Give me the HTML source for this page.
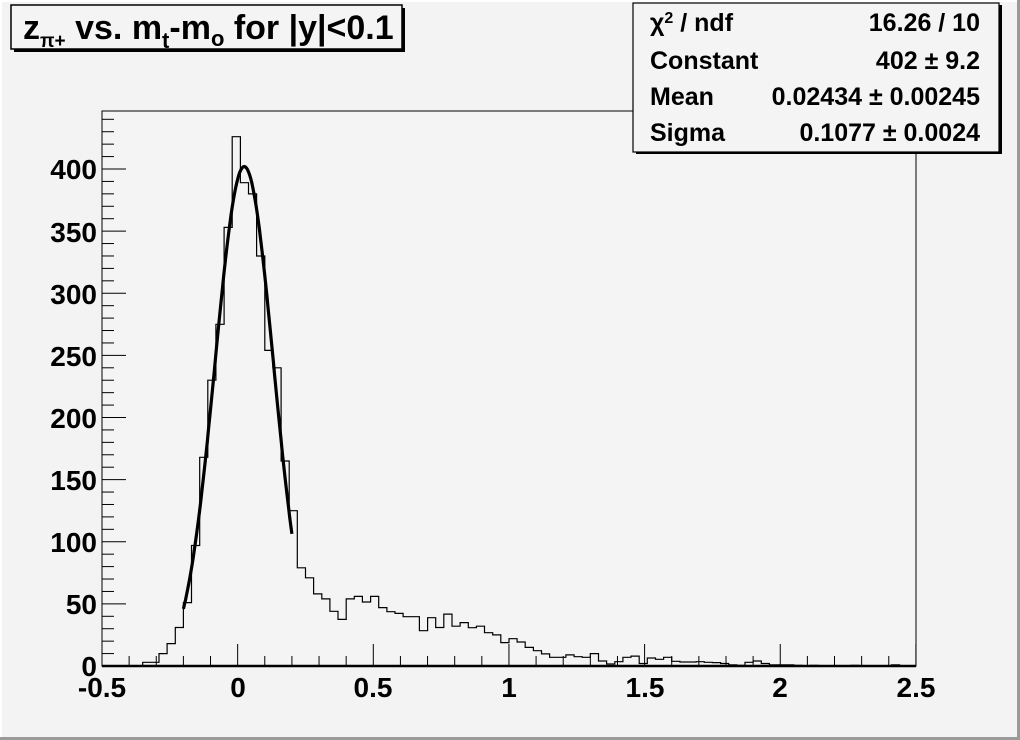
<!DOCTYPE html>
<html><head><meta charset="utf-8"><style>
html,body{margin:0;padding:0;background:#f3f3f3;}
svg{display:block;font-family:"Liberation Sans",Arial,sans-serif;font-weight:bold;}
</style></head><body>
<svg id="s" width="1020" height="740" viewBox="0 0 1020 740" xmlns="http://www.w3.org/2000/svg">
<rect x="0" y="0" width="1020" height="740" fill="#f3f3f3"/>
<rect x="1017" y="0" width="3" height="740" fill="#9a9a9a"/>
<rect x="0" y="737" width="1020" height="3" fill="#9a9a9a"/>
<rect x="0" y="0" width="2" height="737" fill="#fff"/>
<rect x="0" y="0" width="1017" height="2" fill="#fff"/>
<rect x="102" y="111" width="814" height="555" fill="#f4f4f4" stroke="#000" stroke-width="1"/>
<g id="ticks" stroke="#000" stroke-width="1"></g>
<path id="hist" fill="none" stroke="#000" stroke-width="1.2"/>
<path id="fit" fill="none" stroke="#000" stroke-width="3.2"/>
<line x1="102" y1="666" x2="916" y2="666" stroke="#000" stroke-width="2.5"/>
<g font-size="28" text-anchor="end">
<text x="97" y="676">0</text>
<text x="97" y="614">50</text>
<text x="97" y="552">100</text>
<text x="97" y="490">150</text>
<text x="97" y="428">200</text>
<text x="97" y="366">250</text>
<text x="97" y="304">300</text>
<text x="97" y="242">350</text>
<text x="97" y="179">400</text>
</g>
<g font-size="28" text-anchor="middle">
<text x="102" y="697">-0.5</text>
<text x="238" y="697">0</text>
<text x="373" y="697">0.5</text>
<text x="509" y="697">1</text>
<text x="645" y="697">1.5</text>
<text x="780" y="697">2</text>
<text x="916" y="697">2.5</text>
</g>
<rect x="14" y="8" width="391" height="44" fill="#000"/>
<rect x="11" y="5" width="391" height="44" fill="#f4f4f4" stroke="#000" stroke-width="1.5"/>
<text x="23" y="39" font-size="34">z<tspan font-size="19" dy="8">π+</tspan><tspan dy="-8"> vs. m</tspan><tspan font-size="22" dy="9">t</tspan><tspan dy="-9">-m</tspan><tspan font-size="22" dy="7">o</tspan><tspan dy="-7"> for |y|&lt;0.1</tspan></text>
<rect x="636" y="5" width="366" height="149" fill="#000"/>
<rect x="633" y="3" width="366" height="149" fill="#f4f4f4" stroke="#000" stroke-width="1.2"/>
<g font-size="25">
<text x="650" y="31">χ<tspan font-size="16" dy="-8">2</tspan><tspan dy="8"> / ndf</tspan></text>
<text x="650" y="69">Constant</text>
<text x="650" y="105">Mean</text>
<text x="650" y="141">Sigma</text>
</g>
<g font-size="25" text-anchor="end">
<text x="980" y="31">16.26 / 10</text>
<text x="980" y="69">402 ± 9.2</text>
<text x="980" y="105">0.02434 ± 0.00245</text>
<text x="980" y="141">0.1077 ± 0.0024</text>
</g>
</svg>
<script>
var X=function(v){return 237.65+v*271.3;},Y=function(c){return 666-c*1.2425;};
var c=[0,0,0,0,0,3,3,10,18,31,51,97,168,230,275,353,426,389,380,330,254,240,165,125,
79,71,58,54,44,37.5,54,56,51.5,56,47,43.7,42.3,39.7,39.7,28.4,38.9,31,41.8,32,34.9,30.8,32,26.8,25,18.8,22,19.3,15,12.3,9.7,7,7,8.9,7.5,7,10,
4,1.6,3.5,7,8,2,6.4,5.4,7,3.8,3.2,3.2,3.5,3,2.7,2,1,0.5,3,4,2,1,1,1,0.5,
0,0.5,0,0,0,0,0.5,0,0,0,0,1,0,0];
var d="M102,666";
for(var i=0;i<100;i++){var x0=X(-0.5+0.03*i),x1=X(-0.5+0.03*(i+1)),y=Y(c[i]||0);d+=" L"+x0.toFixed(1)+","+y.toFixed(1)+" L"+x1.toFixed(1)+","+y.toFixed(1);}
d+=" L916,666";
document.getElementById("hist").setAttribute("d",d);
var f="";
for(var v=-0.2;v<=0.2001;v+=0.004){var g=402*Math.exp(-0.5*Math.pow((v-0.02434)/0.1077,2));f+=(f?" L":"M")+X(v).toFixed(1)+","+Y(g).toFixed(1);}
document.getElementById("fit").setAttribute("d",f);
var t="";
for(var k=0;k<=30;k++){var x=X(-0.5+0.1*k);var L=(k%5==0)?22:10;t+='<line x1="'+x+'" y1="666" x2="'+x+'" y2="'+(666-L)+'"/>';}
for(var k=0;k<=44;k++){var y=Y(10*k);var L=(k%5==0)?24:12;t+='<line x1="102" y1="'+y+'" x2="'+(102+L)+'" y2="'+y+'"/>';}
document.getElementById("ticks").innerHTML=t;
</script>
</body></html>
